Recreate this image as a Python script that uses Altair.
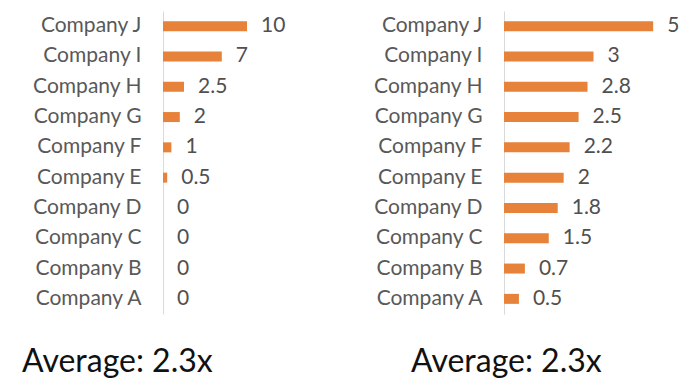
import altair as alt
import pandas as pd

companies = ["Company A", "Company B", "Company C", "Company D", "Company E",
             "Company F", "Company G", "Company H", "Company I", "Company J"]
left_values = [0, 0, 0, 0, 0.5, 1, 2, 2.5, 7, 10]
right_values = [0.5, 0.7, 1.5, 1.8, 2, 2.2, 2.5, 2.8, 3, 5]
left_title = "Average: 2.3x"
right_title = "Average: 2.3x"

order = list(reversed(companies))
BAR = "#E6823A"
FONT = "Lato"


def panel(values, domain_max, width, title, title_dx):
    df = pd.DataFrame({"company": companies, "value": values})
    y = alt.Y("company:N", sort=order,
              scale=alt.Scale(paddingInner=0.67, paddingOuter=0.335),
              axis=alt.Axis(title=None, ticks=False, domain=True,
                            domainColor="#D9D9D9", domainWidth=1,
                            labelFont=FONT, labelFontSize=21,
                            labelColor="#595959", labelPadding=22,
                            labelLimit=300, minExtent=155, maxExtent=155))
    x = alt.X("value:Q", scale=alt.Scale(domain=[0, domain_max]), axis=None)
    base = alt.Chart(df).encode(y=y, x=x)
    bars = base.mark_bar(color=BAR)
    labels = base.mark_text(align="left", baseline="middle", dx=14,
                            font=FONT, fontSize=21, color="#505050").encode(
        text=alt.Text("value:Q", format="~g"))
    return alt.layer(bars, labels).properties(
        width=width, height=303,
        title=alt.TitleParams(title, orient="bottom", anchor="start",
                              frame="group", dx=title_dx, offset=33,
                              font=FONT, fontSize=32, fontWeight="normal",
                              color="#111111"))


left = panel(left_values, 15, 126, left_title, -141)
right = panel(right_values, 6, 179, right_title, -93)

chart = alt.hconcat(left, right, spacing=60).properties(
    padding={"left": 0, "top": 3, "right": 0, "bottom": 0}
).configure_view(stroke=None)

chart.save("out.html", embed_options={"renderer": "svg", "actions": False})
